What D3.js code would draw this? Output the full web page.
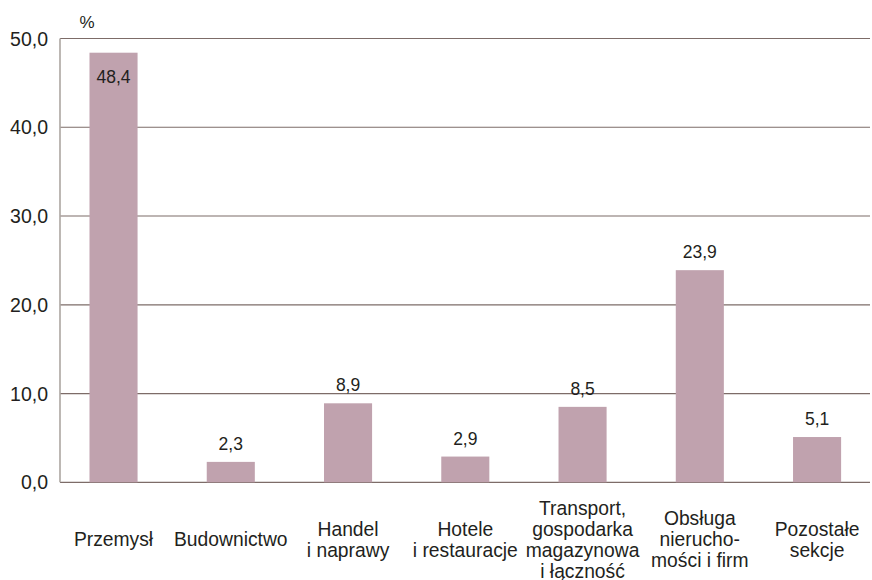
<!DOCTYPE html>
<html>
<head>
<meta charset="utf-8">
<script src="https://cdn.jsdelivr.net/npm/d3@7"></script>
<style>
  html, body { margin: 0; padding: 0; background: #ffffff; }
  svg { display: block; }
  text { font-family: "Liberation Sans", Arial, Helvetica, sans-serif; fill: #231f20; }
</style>
</head>
<body>
<svg id="chart" width="872" height="580"></svg>
<script>
const categories = [
  ["Przemysł"],
  ["Budownictwo"],
  ["Handel", "i naprawy"],
  ["Hotele", "i restauracje"],
  ["Transport,", "gospodarka", "magazynowa", "i łączność"],
  ["Obsługa", "nierucho-", "mości i firm"],
  ["Pozostałe", "sekcje"]
];
const values = [48.4, 2.3, 8.9, 2.9, 8.5, 23.9, 5.1];
const yTicks = [0, 10, 20, 30, 40, 50];
const unitLabel = "%";

(function () {
const fmt = v => d3.format(".1f")(v).replace(".", ",");

const svg = d3.select("#chart");
const mLeft = 60, mRight = 870, mTop = 38.5, mBottom = 482.3;

const x = d3.scaleBand()
  .domain(d3.range(values.length))
  .range([54.9, 875.7])
  .paddingInner(0.59)
  .paddingOuter(0.295);

const y = d3.scaleLinear().domain([0, 50]).range([mBottom, mTop]);

// gridlines
svg.append("g").selectAll("line").data(yTicks).join("line")
  .attr("x1", mLeft).attr("x2", mRight)
  .attr("y1", d => y(d)).attr("y2", d => y(d))
  .attr("stroke", "#7d6c68").attr("stroke-width", 1.2);

// vertical axis line
svg.append("line")
  .attr("x1", mLeft).attr("x2", mLeft)
  .attr("y1", y(50)).attr("y2", y(0))
  .attr("stroke", "#aca6a1").attr("stroke-width", 1.6);

// y tick labels
svg.append("g").selectAll("text").data(yTicks).join("text")
  .attr("x", 48).attr("y", d => y(d))
  .attr("text-anchor", "end")
  .attr("dominant-baseline", "central")
  .style("font-size", "19.5px")
  .text(d => fmt(d));

// unit
svg.append("text")
  .attr("x", 87).attr("y", 28)
  .attr("text-anchor", "middle")
  .style("font-size", "17px")
  .text(unitLabel);

// bars
svg.append("g").selectAll("rect").data(values).join("rect")
  .attr("x", (d, i) => x(i))
  .attr("width", x.bandwidth())
  .attr("y", d => y(d))
  .attr("height", d => y(0) - y(d))
  .attr("fill", "#c0a2ae");

// value labels
svg.append("g").selectAll("text").data(values).join("text")
  .attr("x", (d, i) => x(i) + x.bandwidth() / 2)
  .attr("y", d => d > 45 ? y(d) + 30 : y(d) - 12)
  .attr("text-anchor", "middle")
  .style("font-size", "17.5px")
  .text(d => fmt(d));

// category labels
const lineH = 21, midBase = 546;
const cat = svg.append("g").selectAll("text").data(categories).join("text")
  .attr("text-anchor", "middle")
  .style("font-size", "19.3px");
cat.each(function(lines, i) {
  const t = d3.select(this);
  const cx = x(i) + x.bandwidth() / 2;
  lines.forEach((ln, k) => {
    t.append("tspan")
      .attr("x", cx)
      .attr("y", midBase + (k - (lines.length - 1) / 2) * lineH)
      .text(ln);
  });
});
})();
</script>
</body>
</html>
